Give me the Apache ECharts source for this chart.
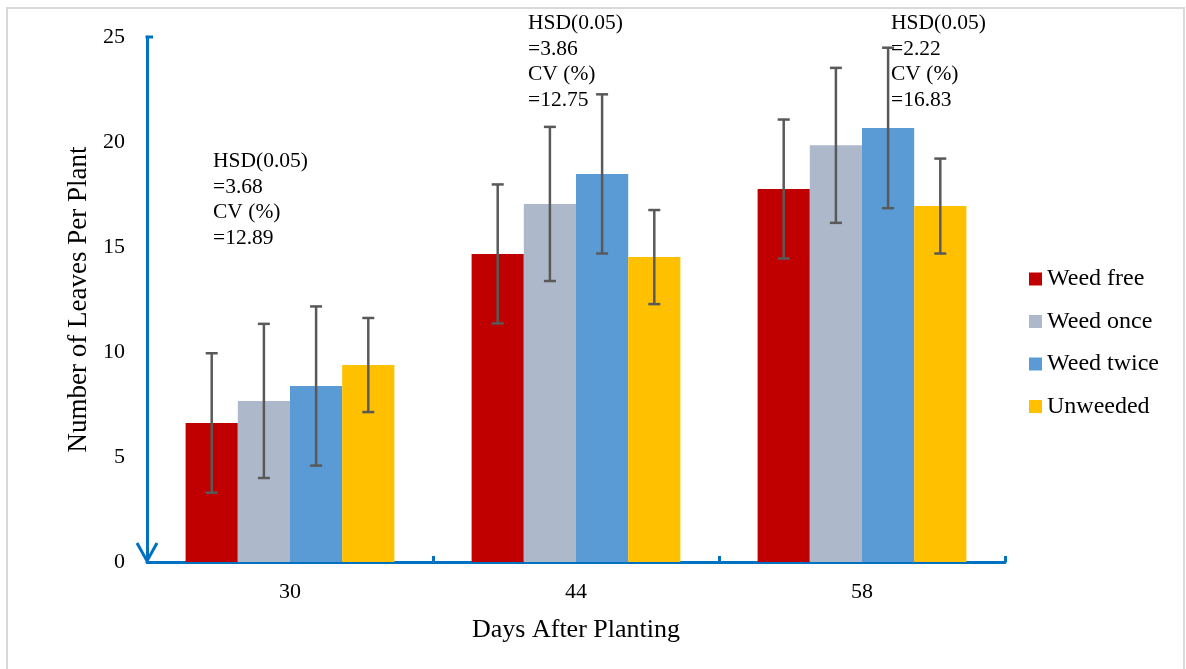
<!DOCTYPE html>
<html>
<head>
<meta charset="utf-8">
<script src="https://cdn.jsdelivr.net/npm/echarts@6/dist/echarts.min.js"></script>
<style>
html,body{margin:0;padding:0;background:#fff;}
#chart{width:1186px;height:669px;}
</style>
</head>
<body>
<div id="chart"></div>
<script>
const categories = ['30', '44', '58'];
const seriesNames = ['Weed free', 'Weed once', 'Weed twice', 'Unweeded'];
const weedFree = [6.62, 14.67, 17.76];
const weedOnce = [7.67, 17.05, 19.84];
const weedTwice = [8.38, 18.48, 20.67];
const unweeded = [9.38, 14.52, 16.95];
const weedFreeErr = [3.32, 3.31, 3.31];
const weedOnceErr = [3.67, 3.67, 3.69];
const weedTwiceErr = [3.79, 3.79, 3.82];
const unweededErr = [2.24, 2.24, 2.26];
const annotations = [
  'HSD(0.05)\n=3.68\nCV (%)\n=12.89',
  'HSD(0.05)\n=3.86\nCV (%)\n=12.75',
  'HSD(0.05)\n=2.22\nCV (%)\n=16.83'
];
const yTicks = [0, 5, 10, 15, 20, 25];

const colors = ['#C00000', '#ADB9CA', '#5B9BD5', '#FFC000'];
const values = [weedFree, weedOnce, weedTwice, unweeded];
const errs = [weedFreeErr, weedOnceErr, weedTwiceErr, unweededErr];
const FONT = '"Liberation Serif", "Times New Roman", serif';
const AXIS = '#0070C0';
const GAP = 0.27;

const chart = echarts.init(document.getElementById('chart'));

const series = [];
values.forEach((v, i) => {
  series.push({
    name: seriesNames[i], type: 'bar', data: v,
    itemStyle: { color: colors[i] },
    barGap: '0%', barCategoryGap: (GAP * 100) + '%'
  });
});
values.forEach((v, i) => {
  series.push({
    name: 'err' + i, type: 'custom', z: 10,
    data: v.map((val, k) => [k, val, errs[i][k]]),
    renderItem: function (params, api) {
      const k = api.value(0);
      const band = api.size([1, 0])[0];
      const bw = band * (1 - GAP) / 4;
      const off = (i - 1.5) * bw;
      const hi = api.coord([k, api.value(1) + api.value(2)]);
      const lo = api.coord([k, api.value(1) - api.value(2)]);
      const x = hi[0] + off;
      const cap = 6;
      const st = { stroke: '#595959', lineWidth: 2.5 };
      return {
        type: 'group',
        children: [
          { type: 'line', shape: { x1: x, y1: hi[1], x2: x, y2: lo[1] }, style: st },
          { type: 'line', shape: { x1: x - cap, y1: hi[1], x2: x + cap, y2: hi[1] }, style: st },
          { type: 'line', shape: { x1: x - cap, y1: lo[1], x2: x + cap, y2: lo[1] }, style: st }
        ]
      };
    }
  });
});

chart.setOption({
  animation: false,
  textStyle: { fontFamily: FONT },
  grid: { left: 147, right: 181, top: 37, bottom: 107 },
  legend: {
    data: seriesNames,
    orient: 'vertical',
    left: 1029, top: 267, padding: 0,
    itemWidth: 13, itemHeight: 13, itemGap: 18.5,
    icon: 'rect',
    textStyle: { fontFamily: FONT, fontSize: 24, color: '#000', padding: [0, 0, 0, 0] }
  },
  xAxis: {
    type: 'category', data: categories,
    name: 'Days After Planting', nameLocation: 'middle', nameGap: 55,
    nameTextStyle: { fontFamily: FONT, fontSize: 26, color: '#000' },
    axisLine: { lineStyle: { color: AXIS, width: 3 } },
    axisTick: { show: true, inside: true, alignWithLabel: false, length: 6, lineStyle: { color: AXIS, width: 3 } },
    axisLabel: { fontFamily: FONT, fontSize: 22, color: '#000', margin: 19 }
  },
  yAxis: {
    type: 'value', min: 0, max: 25, interval: 5,
    name: 'Number of Leaves Per Plant', nameLocation: 'middle', nameGap: 44,
    nameTextStyle: { fontFamily: FONT, fontSize: 27, color: '#000' },
    axisLine: { show: true, lineStyle: { color: AXIS, width: 3 } },
    axisTick: { show: false },
    splitLine: { show: false },
    axisLabel: { fontFamily: FONT, fontSize: 22, color: '#000', margin: 22,
      formatter: v => yTicks.indexOf(v) >= 0 ? String(v) : '' }
  },
  series: series
});

// decorations derived from scales
const yTop = chart.convertToPixel({ yAxisIndex: 0 }, 25);
const yZero = chart.convertToPixel({ yAxisIndex: 0 }, 0);
const axX = 147;
const annPos = [[213, 149], [528, 11], [891, 11]];
chart.setOption({
  graphic: [
    { type: 'rect', shape: { x: 7, y: 8, width: 1177, height: 680 },
      style: { fill: 'none', stroke: '#d9d9d9', lineWidth: 2 }, silent: true },
    { type: 'polyline', shape: { points: [[axX - 1.5, yTop], [axX + 6, yTop]] },
      style: { stroke: AXIS, lineWidth: 3, fill: 'none' } },
    { type: 'polyline', shape: { points: [[axX - 10, yZero - 19], [axX, yZero - 1], [axX + 10, yZero - 19]] },
      style: { stroke: AXIS, lineWidth: 3, fill: 'none' } }
  ].concat(annotations.map((t, i) => ({
    type: 'text', left: annPos[i][0], top: annPos[i][1],
    style: { text: t, font: '21.5px ' + FONT, fill: '#000', lineHeight: 25.5 }
  })))
});
</script>
</body>
</html>
